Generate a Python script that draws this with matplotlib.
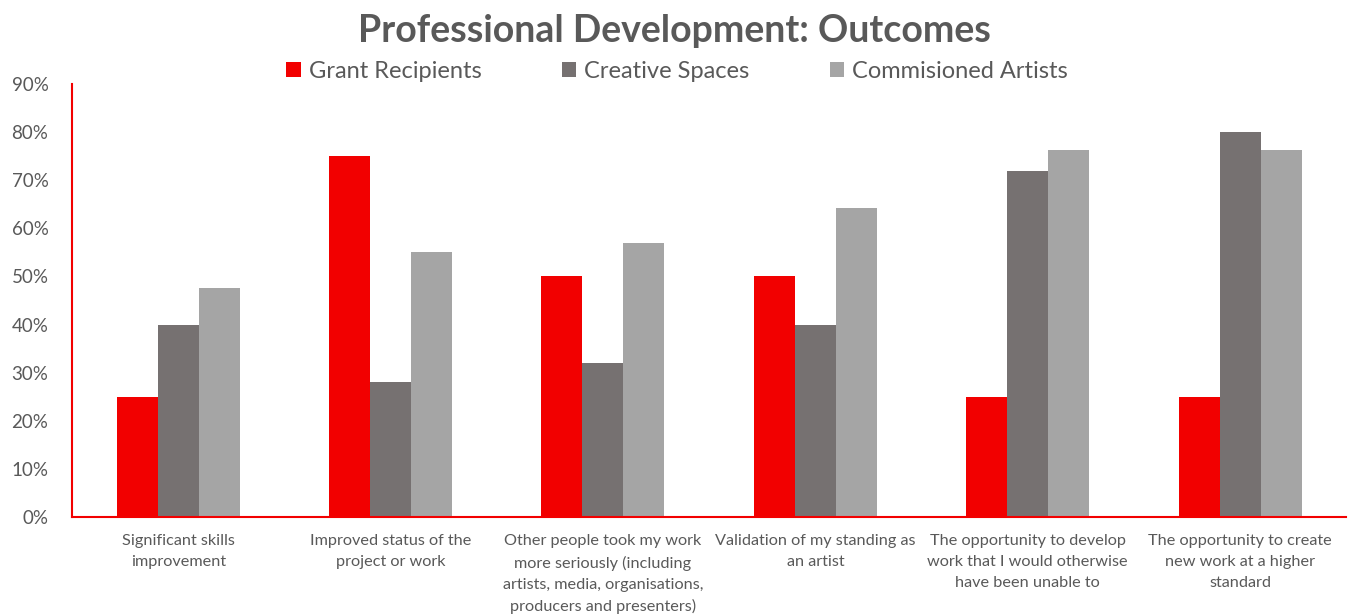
import numpy as np
import matplotlib.pyplot as plt
from matplotlib.ticker import PercentFormatter

# ======================
# Data
# ======================
categories = [
    "Significant skills\nimprovement",
    "Improved status of the\nproject or work",
    "Other people took my work\nmore seriously (including\nartists, media, organisations,\nproducers and presenters)",
    "Validation of my standing as\nan artist",
    "The opportunity to develop\nwork that I would otherwise\nhave been unable to",
    "The opportunity to create\nnew work at a higher\nstandard",
]
grant_recipients = [25, 75, 50, 50, 25, 25]
creative_spaces = [40, 28, 32, 40, 72, 80]
commissioned_artists = [47.5, 55, 57, 64.3, 76.2, 76.2]

series = [
    ("Grant Recipients", grant_recipients, "#F20000"),
    ("Creative Spaces", creative_spaces, "#767171"),
    ("Commisioned Artists", commissioned_artists, "#A5A5A5"),
]

# ======================
# Plot
# ======================
plt.rcParams["font.family"] = ["Lato", "DejaVu Sans"]
text_gray = "#595959"

fig = plt.figure(figsize=(13.49, 6.16), dpi=100)
ax = fig.add_axes([0.0534, 0.1607, 0.9446, 0.7029])

x = np.arange(len(categories))
width = 0.193
for i, (name, vals, color) in enumerate(series):
    ax.bar(x + (i - 1) * width, vals, width, color=color, label=name)

ax.set_xlim(-0.5, len(categories) - 0.5)
ax.set_ylim(0, 90)
ax.set_yticks(range(0, 91, 10))
ax.yaxis.set_major_formatter(PercentFormatter(decimals=0))
ax.set_xticks(x)
ax.set_xticklabels(categories, fontsize=11.7, color=text_gray, linespacing=1.62)
ax.tick_params(axis="y", labelsize=13.5, labelcolor=text_gray, length=0, pad=17)
ax.tick_params(axis="x", length=0, pad=12.5)

for side in ["top", "right"]:
    ax.spines[side].set_visible(False)
for side in ["left", "bottom"]:
    ax.spines[side].set_color("#F20000")
    ax.spines[side].set_linewidth(1.5)

fig.suptitle("Professional Development: Outcomes", x=0.5, y=0.978,
             fontsize=27, fontweight="bold", color=text_gray)
fig.legend(loc="center", bbox_to_anchor=(0.502, 0.884), ncol=3, frameon=False,
           fontsize=17, handlelength=0.6, handleheight=0.6, handletextpad=0.35,
           columnspacing=3.4, labelcolor=text_gray)

plt.savefig("out.png", dpi=100)
